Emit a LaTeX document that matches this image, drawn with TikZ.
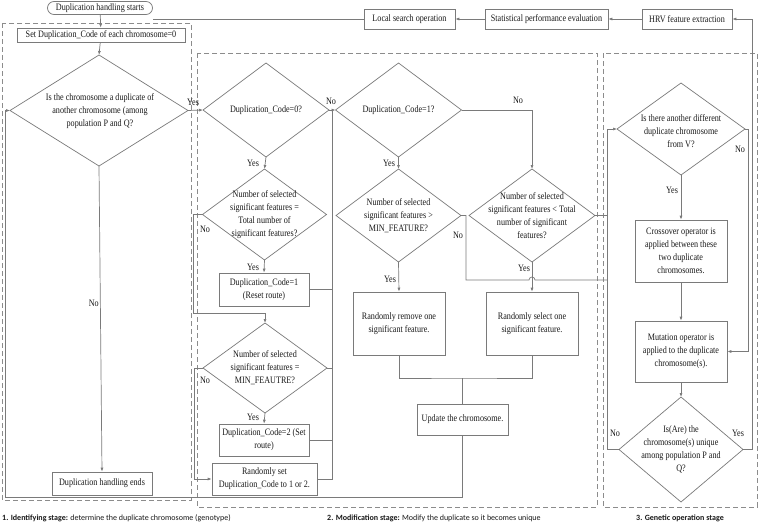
\documentclass[tikz,border=0pt]{standalone}
\usepackage{fontspec}
\setmainfont[FakeStretch=0.83]{Liberation Serif}
\newfontfamily\capfont{Carlito}
\usetikzlibrary{shapes.geometric,arrows.meta}
\definecolor{linec}{gray}{0.48}
\definecolor{txtc}{gray}{0.1}
\definecolor{dashc}{gray}{0.55}
\newcommand{\fs}{\fontsize{9.8}{13}\selectfont}
\begin{document}
\begin{tikzpicture}[x=1pt,y=-1pt,
 ln/.style={draw=linec,line width=0.7pt},
 arr/.style={ln,-{Latex[length=4pt,width=3pt]}},
 box/.style={draw=linec,line width=0.7pt,fill=white,align=center,inner sep=0pt,font=\fs,text=txtc},
 dia/.style={diamond,draw=linec,line width=0.7pt,inner sep=0pt,outer sep=0pt},
 dtxt/.style={align=center,font=\fs,text=txtc,inner sep=0pt},
 lbl/.style={font=\fs,text=txtc,inner sep=0pt},
 stagebox/.style={draw=dashc,line width=0.7pt,dash pattern=on 5pt off 3pt},
 captxt/.style={font=\capfont\fontsize{8}{9}\selectfont,text=txtc,inner sep=0pt}]
\useasboundingbox (0,0) rectangle (765,522);
\fill[white] (0,0) rectangle (765,522);

% stage frames
\draw[stagebox] (2,23) rectangle (191,500);
\draw[stagebox] (197,53) rectangle (597,507);
\draw[stagebox] (603,53) rectangle (757,507);

% top row
\node[box,rounded corners=6.5pt,minimum width=105pt,minimum height=13pt] (start) at (100,8) {Duplication handling starts};
\node[box,minimum width=91pt,minimum height=20pt] (local) at (409.5,19) {Local search operation};
\node[box,minimum width=123pt,minimum height=20pt] (stat) at (546.5,19) {Statistical performance evaluation};
\node[box,minimum width=90pt,minimum height=20pt] (hrv) at (687,19) {HRV feature extraction};

% stage 1
\node[box,minimum width=168pt,minimum height=14pt] (setbox) at (101,35) {Set Duplication\_Code of each chromosome=0};
\node[dia,minimum width=178pt,minimum height=111pt] (bigd) at (99,110.5) {};
\node[dtxt] (bigdt) at (100,111) {Is the chromosome a duplicate of\\another chromosome (among\\population P and Q?};
\node[box,minimum width=100pt,minimum height=23pt] (endbox) at (102,483.5) {Duplication handling ends};

% stage 2, left column
\node[dia,minimum width=126pt,minimum height=94pt] (d0) at (266,110) {};
\node[dtxt] (d0t) at (d0) {Duplication\_Code=0?};
\node[dia,minimum width=124pt,minimum height=91pt] (d2) at (264.5,214.5) {};
\node[dtxt] (d2t) at (d2) {Number of selected\\significant features =\\Total number of\\significant features?};
\node[box,minimum width=90pt,minimum height=33pt] (b1) at (264,289.5) {Duplication\_Code=1\\(Reset route)};
\node[dia,minimum width=124pt,minimum height=90pt] (d3) at (265,368) {};
\node[dtxt] (d3t) at (d3) {Number of selected\\significant features =\\MIN\_FEAUTRE?};
\node[box,minimum width=90pt,minimum height=32pt] (b2) at (264,440) {Duplication\_Code=2 (Set\\route)};
\node[box,minimum width=105pt,minimum height=32pt] (b3) at (264.5,479) {Randomly set\\Duplication\_Code to 1 or 2.};

% stage 2, right part
\node[dia,minimum width=126pt,minimum height=94pt] (d1) at (398.5,110) {};
\node[dtxt] (d1t) at (d1) {Duplication\_Code=1?};
\node[dia,minimum width=125pt,minimum height=93pt] (d4) at (398.5,215.5) {};
\node[dtxt] (d4t) at (d4) {Number of selected\\significant features >\\MIN\_FEATURE?};
\node[dia,minimum width=126pt,minimum height=93pt] (d5) at (532,215.5) {};
\node[dtxt] (d5t) at (d5) {Number of selected\\significant features < Total\\number of significant\\features?};
\node[box,minimum width=92pt,minimum height=63pt] (rem) at (399,323.5) {Randomly remove one\\significant feature.};
\node[box,minimum width=92pt,minimum height=63pt] (sel) at (532,323.5) {Randomly select one\\significant feature.};
\node[box,minimum width=91pt,minimum height=31pt] (upd) at (462.5,419.5) {Update the chromosome.};

% stage 3
\node[dia,minimum width=128pt,minimum height=92pt] (d6) at (681,129) {};
\node[dtxt] (d6t) at (681,131) {Is there another different\\duplicate chromosome\\from V?};
\node[box,minimum width=92pt,minimum height=62pt] (cross) at (681,251) {Crossover operator is\\applied between these\\two duplicate\\chromosomes.};
\node[box,minimum width=92pt,minimum height=61pt] (mut) at (681,351.5) {Mutation operator is\\applied to the duplicate\\chromosome(s).};
\node[dia,minimum width=124pt,minimum height=105pt] (d7) at (681,449.5) {};
\node[dtxt] (d7t) at (d7) {Is(Are) the\\chromosome(s) unique\\among population P and\\Q?};

% helper coordinates
\coordinate (col) at (332,110);
\coordinate (rv) at (607,129);
\coordinate (lend) at (153,19);
\coordinate (j1) at (462.5,378);

% connectors: top row
\draw[arr] (hrv.west) -- (stat.east);
\draw[arr] (stat.west) -- (local.east);
\draw[ln] (local.west) -- (lend);

% stage 1
\draw[arr] (start) -- (setbox);
\draw[arr] (setbox) -- (bigd.north);
\draw[arr] (bigd.east) -- (d0.west);
\draw[arr] (bigd.south) -- (endbox.north);

% stage 2
\draw[arr] (d0.east) -- (d1.west);
\draw[arr] (d0.south) -- (d2.north);
\draw[arr] (d2.south) -- (b1.north);
\draw[arr] (d2.west) -- (193,214.5) -- (193,313) -| (d3.north);
\draw[arr] (d3.south) -- (b2.north);
\draw[arr] (d3.west) -- (194,368) |- (b3.west);
\draw[ln] (b3.east) -| (col);
\draw[ln] (b1.east) -- (b1.east -| col);
\draw[ln] (b2.east) -- (b2.east -| col);
\draw[ln] (d3.east) -- (d3.east -| col);

\draw[arr] (d1.south) -- (d4.north);
\draw[arr] (d1.east) -| (d5.north);
\draw[arr] (d4.south) -- (rem.north);
\draw[arr] (d5.south) -- (sel.north);
\draw[ln] (d4.east) -- (466,215.5) -- (466,280) -- (529,280) arc[start angle=180,end angle=0,radius=3pt] -- (607,280);
\draw[ln] (d5.east) -- (d5.east -| rv);
\draw[ln] (rem.south) |- (j1) -| (sel.south);
\draw[ln] (j1) -- (upd.north);
\draw[arr] (upd.south) |- (5,497) -- (5,110.5) -- (bigd.west);

% stage 3
\draw[arr] (d6.south) -- (cross.north);
\draw[arr] (cross.south) -- (mut.north);
\draw[arr] (mut.south) -- (d7.north);
\draw[arr] (d7.west) -| (rv) -- (d6.west);
\draw[arr] (d6.east) -- (748,129) |- (mut.east);
\draw[arr] (d7.east) -- (752,449.5) |- (hrv.east);

% labels
\node[lbl] (ly1) at (193,102) {Yes};
\node[lbl,anchor=east] (ln1) at (99,303) {No};
\node[lbl] (ln2) at (331,101) {No};
\node[lbl] (ly2) at (253,163) {Yes};
\node[lbl] (ly3) at (253,267) {Yes};
\node[lbl] (ln3) at (205,229) {No};
\node[lbl] (ly4) at (253,417) {Yes};
\node[lbl] (ln4) at (205,380) {No};
\node[lbl] (ly5) at (389,163) {Yes};
\node[lbl] (ln5) at (518,100) {No};
\node[lbl] (ly6) at (390,279) {Yes};
\node[lbl] (ln6) at (458,235) {No};
\node[lbl] (ly7) at (524,268) {Yes};
\node[lbl] (ln7) at (740,149) {No};
\node[lbl] (ly8) at (672,190) {Yes};
\node[lbl] (ln8) at (615,433) {No};
\node[lbl] (ly9) at (738,433) {Yes};

% captions
\node[captxt,anchor=west] (c1) at (2,518) {\textbf{1. Identifying stage:} determine the duplicate chromosome (genotype)};
\node[captxt,anchor=west] (c2) at (327,518) {\textbf{2. Modification stage:} Modify the duplicate so it becomes unique};
\node[captxt] (c3) at (680,518) {\textbf{3. Genetic operation stage}};
\end{tikzpicture}
\end{document}
